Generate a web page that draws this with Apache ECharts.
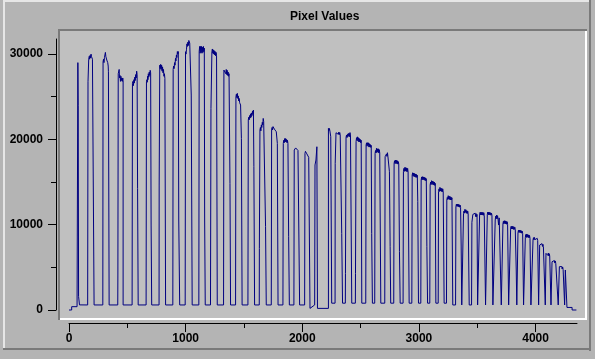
<!DOCTYPE html>
<html>
<head>
<meta charset="utf-8">
<script src="https://cdn.jsdelivr.net/npm/echarts@6/dist/echarts.min.js"></script>
<style>
html,body{margin:0;padding:0;background:#b4b4b4;}
#chart{width:595px;height:359px;}
</style>
</head>
<body>
<div id="chart"></div>
<script>
// ---- data: [pixel index, value] ----
const titleText = 'Pixel Values';
const xMajorTicks = [0, 1000, 2000, 3000, 4000];
const xMinorTicks = [500, 1500, 2500, 3500];
const yMajorTicks = [0, 10000, 20000, 30000];
const yMinorTicks = [5000, 15000, 25000];
const xMax = 4355;
const yMax = 31770;

const segLeft = [
[0,0],[23,0],[23,390],[69,390],[75,390],[76,29000],[78,29100],[79,24000],[81,24000],[82,1600],[88,1400],[90,600],[160,590],
[163,590],[163,26760],[168,26760],[169,29400],[174,29750],[177,29400],[181,29850],[185,29550],[189,30000],[193,29700],[197,29900],[201,29400],[205,29500],[209,29200],[213,29250],[215,590],[290,590],
[292,590],[292,29100],[296,29400],[300,29000],[304,29600],[308,29400],[312,30200],[316,29700],[320,29900],[324,29300],[328,29500],[332,29000],[336,28600],[338,27930],[343,27930],[344,590],[418,590],
[419,590],[419,4100],[421,4100],[422,27700],[426,27900],[430,28200],[433,27200],[437,27500],[441,26800],[445,27400],[449,26900],[453,27200],[457,26800],[461,27200],[464,26900],[464,590],[541,590],
[544,590],[544,26560],[548,26800],[552,26300],[556,27000],[560,26600],[564,27300],[568,26900],[572,27600],[576,27200],[580,28000],[584,27600],[587,27600],[588,14260],[592,14260],[593,590],[661,590],
[664,590],[664,26760],[668,27000],[671,26700],[674,27400],[677,27000],[680,27700],[684,27300],[688,27900],[692,27500],[696,28100],[700,27800],[703,27900],[704,9960],[708,9960],[709,590],[772,590],
[773,14650],[777,14650],[778,28700],[782,28300],[786,28800],[790,28200],[794,28700],[798,28000],[802,28500],[806,27800],[810,28200],[814,27400],[818,27700],[822,27150],[827,27150],[828,590],[890,590],
[893,590],[893,28200],[897,28600],[901,28300],[905,29000],[909,28700],[913,29500],[917,29200],[921,29900],[925,29600],[929,30300],[933,30000],[937,30300],[940,30200],[941,10550],[948,10550],[949,590],[996,590],
[999,590],[999,30280],[1003,30000],[1007,30500],[1011,31200],[1015,30900],[1019,31400],[1023,31000],[1027,31600],[1031,31770],[1035,31300],[1039,31500],[1043,31100],[1047,31200],[1048,25200],[1055,25200],[1056,590],[1113,590]
];

const segMid1 = [
[1116,590],[1116,30300],[1120,30900],[1124,30100],[1128,30900],[1132,30200],[1136,30900],[1140,30100],[1144,30800],[1148,30200],[1152,30900],[1156,30300],[1160,30700],[1162,30500],[1163,10550],[1167,10550],[1168,590],[1213,590],
[1216,590],[1217,23630],[1224,23630],[1225,30300],[1229,30600],[1233,30100],[1237,30500],[1241,30000],[1245,30400],[1249,29900],[1253,30300],[1257,29800],[1261,30200],[1265,29800],[1270,29900],[1271,590],[1325,590],
[1328,590],[1328,28130],[1332,28300],[1336,27900],[1340,28300],[1344,27700],[1348,28200],[1352,27600],[1356,28100],[1360,27500],[1364,27900],[1368,27400],[1372,27700],[1376,27500],[1379,27500],[1380,14850],[1384,14850],[1385,590],[1428,590],
[1431,590],[1431,25000],[1435,25300],[1439,24900],[1443,25400],[1447,24800],[1451,25100],[1455,24500],[1459,24800],[1463,24300],[1467,24500],[1471,24030],[1477,24030],[1478,20120],[1483,20120],[1484,590],[1534,590],
[1537,590],[1537,22270],[1541,22600],[1545,22300],[1549,22800],[1553,22500],[1557,23000],[1561,22600],[1565,23100],[1569,22800],[1573,23300],[1577,23000],[1581,23440],[1584,23300],[1585,16800],[1590,16800],[1591,590],[1631,590],
[1632,7230],[1636,7230],[1637,21100],[1641,21400],[1645,21000],[1649,21700],[1653,21400],[1657,22000],[1661,21700],[1665,22460],[1669,22100],[1673,22300],[1677,22000],[1681,22100],[1684,22000],[1685,9770],[1690,9770],[1691,590],[1734,590],
[1737,590],[1737,21100],[1741,21400],[1745,21100],[1749,21500],[1753,21300],[1757,21680],[1761,21200],[1765,21400],[1769,21000],[1773,21200],[1777,20900],[1781,21000],[1785,20900],[1786,19530],[1791,19530],[1792,590],[1834,590],
[1837,590],[1837,19530],[1841,19900],[1845,19600],[1849,20100],[1853,19700],[1857,20100],[1861,19700],[1865,20000],[1869,19600],[1873,19900],[1877,19500],[1882,19700],[1883,8590],[1888,8590],[1889,590],[1928,590],
[1931,590],[1931,18750],[1935,18900],[1939,18700],[1943,19000],[1947,18800],[1951,19140],[1955,18800],[1959,19000],[1963,18700],[1967,18900],[1971,18600],[1976,18700],[1977,590],[2020,590],
[2023,590],[2023,18360],[2027,18600],[2031,18400],[2035,18670],[2039,18300],[2043,18500],[2047,18200],[2051,18300],[2055,17900],[2059,17770],[2065,17770],[2066,190],[2070,400],[2106,590],
[2109,590],[2109,17000],[2116,17000],[2117,17580],[2124,17580],[2125,19140],[2129,19140],[2130,190],[2224,190]
];

const segMid2 = [
[2224,21290],[2228,21000],[2232,21290],[2236,21050],[2240,21200],[2243,21000],[2244,20310],[2251,20310],[2252,800],[2281,800],
[2282,17190],[2288,17190],[2289,20780],[2293,20550],[2297,20860],[2301,20550],[2305,20860],[2309,20600],[2313,20860],[2317,20550],[2321,20800],[2325,20550],[2329,20750],[2333,20600],[2337,20700],[2338,8980],[2344,8980],[2345,800],[2369,800],
[2370,4300],[2374,4300],[2375,20240],[2379,20500],[2383,20200],[2387,20600],[2391,20300],[2395,20700],[2399,20400],[2403,20700],[2407,20300],[2409,20800],[2413,20400],[2417,20500],[2423,20300],[2424,800],[2455,800],
[2456,4300],[2460,4300],[2461,19730],[2465,20200],[2469,19900],[2473,20300],[2477,19800],[2481,20200],[2485,19700],[2489,20100],[2493,19700],[2497,20000],[2501,19600],[2505,19900],[2509,19700],[2510,800],[2544,800],
[2547,800],[2547,19340],[2551,19600],[2555,19200],[2559,19610],[2563,19300],[2567,19600],[2571,19100],[2575,19500],[2579,19100],[2583,19400],[2587,19060],[2591,19300],[2594,19100],[2595,8980],[2600,8980],[2601,800],[2621,800],
[2624,800],[2624,18360],[2628,18700],[2632,18400],[2636,18950],[2640,18500],[2644,18900],[2648,18500],[2652,18900],[2656,18400],[2660,18800],[2664,18400],[2668,18600],[2672,18400],[2673,800],[2707,800],
[2710,800],[2710,17970],[2714,18200],[2718,17900],[2722,18300],[2726,18000],[2730,18440],[2734,18000],[2738,18200],[2742,17800],[2746,17900],[2747,16210],[2752,16210],[2753,7420],[2757,7420],[2758,800],[2784,800],
[2787,800],[2787,17190],[2791,17500],[2795,17150],[2799,17580],[2803,17200],[2807,17550],[2811,17150],[2815,17500],[2819,17100],[2823,17400],[2827,17110],[2832,17300],[2833,6840],[2838,6840],[2839,800],[2864,800],
[2867,800],[2867,16210],[2871,16600],[2875,16250],[2879,16720],[2883,16300],[2887,16700],[2891,16250],[2895,16650],[2899,16200],[2903,16600],[2907,16200],[2911,16400],[2915,16200],[2916,800],[2939,800],
[2942,800],[2942,15820],[2946,16090],[2950,15700],[2954,16050],[2958,15650],[2962,16000],[2966,15600],[2970,15950],[2974,15550],[2978,15900],[2982,15550],[2986,15800],[2989,15600],[2990,12700],[2995,12700],[2996,800],[3016,800],
[3019,800],[3019,15240],[3023,15600],[3027,15250],[3031,15630],[3035,15300],[3039,15600],[3043,15250],[3047,15550],[3051,15200],[3055,15500],[3059,15150],[3063,15400],[3067,15200],[3068,7420],[3073,7420],[3074,800],[3093,800],
[3096,800],[3096,14650],[3100,15000],[3104,14700],[3108,15160],[3112,14750],[3116,15100],[3120,14700],[3124,15050],[3128,14650],[3132,15000],[3136,14600],[3140,14850],[3144,14650],[3145,800],[3165,800],
[3168,800],[3168,13870],[3172,14200],[3176,13900],[3180,14380],[3184,13950],[3188,14300],[3192,13900],[3196,14250],[3200,13850],[3204,14200],[3208,13850],[3212,14050],[3215,13900],[3216,800],[3236,800],
[3239,800],[3239,12890],[3243,13200],[3247,12950],[3251,13400],[3255,13000],[3259,13350],[3263,12950],[3267,13300],[3271,12900],[3275,13250],[3279,12900],[3283,13150],[3289,12950],[3290,590],[3314,590]
];

const segRight = [
[3317,590],[3317,12110],[3321,12400],[3325,12150],[3329,12420],[3333,12150],[3337,12400],[3341,12100],[3345,12350],[3349,12050],[3353,12300],[3357,12050],[3361,12150],[3362,7500],[3366,7500],[3367,590],[3379,590],
[3382,590],[3382,11330],[3386,11600],[3390,11350],[3394,11800],[3398,11450],[3402,11750],[3406,11350],[3410,11650],[3414,11300],[3418,11600],[3422,11300],[3426,11500],[3430,11350],[3431,590],[3451,590],
[3454,590],[3454,10270],[3461,10270],[3462,11200],[3466,11400],[3470,11000],[3474,11400],[3478,11000],[3482,11350],[3486,10950],[3490,11300],[3494,10940],[3498,11200],[3502,11000],[3503,590],[3517,590],
[3520,590],[3520,11130],[3524,11450],[3528,11150],[3532,11480],[3536,11150],[3540,11450],[3544,11150],[3548,11450],[3552,11100],[3556,11400],[3560,11100],[3564,11300],[3570,11150],[3571,590],[3583,590],
[3586,590],[3586,11210],[3590,11480],[3594,11150],[3598,11480],[3602,11150],[3606,11450],[3610,11150],[3614,11400],[3618,11100],[3622,11350],[3626,11100],[3630,11250],[3633,11150],[3634,590],[3651,590],
[3654,590],[3654,10550],[3658,11000],[3662,10700],[3666,11130],[3670,10700],[3674,11050],[3678,10650],[3682,10800],[3683,9960],[3687,9960],[3688,10800],[3692,10600],[3696,10900],[3700,10600],[3705,10700],[3706,590],[3717,590],
[3720,590],[3720,10080],[3724,10400],[3728,10100],[3732,10470],[3736,10150],[3740,10450],[3744,10100],[3748,10400],[3752,10050],[3756,10350],[3760,10050],[3764,10250],[3768,10100],[3769,590],[3783,590],
[3786,590],[3786,9490],[3790,9800],[3794,9500],[3798,9840],[3802,9500],[3806,9800],[3810,9450],[3814,9750],[3818,9450],[3822,9700],[3826,9400],[3830,9600],[3833,9450],[3834,4690],[3838,4690],[3839,590],[3846,590],
[3849,590],[3849,9060],[3853,9350],[3857,9080],[3861,9370],[3865,9100],[3869,9350],[3873,9050],[3877,9300],[3881,9000],[3885,9250],[3889,9000],[3893,9150],[3896,9050],[3897,590],[3909,590],
[3912,590],[3912,8510],[3916,8850],[3920,8500],[3924,8910],[3928,8550],[3932,8850],[3936,8500],[3940,8800],[3944,8450],[3948,8750],[3952,8400],[3956,8600],[3959,8450],[3960,590],[3975,590],
[3978,590],[3978,8200],[3982,8480],[3986,8220],[3990,8510],[3994,8250],[3998,8480],[4002,8200],[4006,8450],[4010,8150],[4014,8400],[4018,8150],[4022,8300],[4025,8200],[4026,590],[4032,590],
[4035,590],[4035,7620],[4039,7800],[4043,7550],[4047,7810],[4051,7500],[4055,7780],[4059,7450],[4063,7700],[4067,7420],[4071,7650],[4075,7420],[4079,7550],[4082,7450],[4083,590],[4086,590],
[4089,590],[4089,6640],[4093,6720],[4097,6450],[4101,6700],[4105,6400],[4109,6680],[4113,6350],[4117,6600],[4121,6330],[4125,6550],[4131,6400],[4132,590],[4138,590],
[4141,590],[4141,5660],[4145,5850],[4149,5600],[4153,5860],[4157,5550],[4161,5800],[4165,5500],[4169,5750],[4173,5470],[4177,5700],[4181,5470],[4188,5550],[4189,1760],[4193,1760],[4194,590],[4201,590],
[4204,590],[4204,5080],[4208,5160],[4212,4900],[4216,5160],[4220,4850],[4224,5100],[4228,4800],[4232,5050],[4236,4760],[4240,4950],[4248,4800],[4249,590],[4254,590],[4255,4690],[4268,4690],[4269,300],[4313,300],[4313,0],[4350,0]
];

const pixelSeries = segLeft.concat(segMid1, segMid2, segRight);

// ---- chart ----
const FONT = 'Liberation Sans, Arial, Helvetica, sans-serif';
const chart = echarts.init(document.getElementById('chart'), null, {renderer: 'canvas'});

const labelStyle = {fontSize: 12, fontWeight: 'bold', color: '#000', fontFamily: FONT, formatter: v => String(v)};

chart.setOption({
  animation: false,
  backgroundColor: '#b4b4b4',
  title: {
    text: titleText, left: 285, top: 6,
    textStyle: {fontSize: 12, fontWeight: 'bold', color: '#000', fontFamily: FONT}
  },
  graphic: [
    // outer raised frame
    {type: 'rect', z: -20, silent: true, shape: {x: 3, y: 0, width: 588, height: 2}, style: {fill: '#e6e6e6'}},
    {type: 'rect', z: -20, silent: true, shape: {x: 3, y: 0, width: 2, height: 350}, style: {fill: '#e6e6e6'}},
    {type: 'rect', z: -20, silent: true, shape: {x: 589, y: 0, width: 2, height: 351}, style: {fill: '#7a7a7a'}},
    {type: 'rect', z: -20, silent: true, shape: {x: 3, y: 348, width: 588, height: 2}, style: {fill: '#7a7a7a'}},
    // sunken plot panel
    {type: 'rect', z: -19, silent: true, shape: {x: 58, y: 29, width: 529, height: 291}, style: {fill: '#c0c0c0'}},
    {type: 'rect', z: -18, silent: true, shape: {x: 58, y: 29, width: 529, height: 2}, style: {fill: '#7a7a7a'}},
    {type: 'rect', z: -18, silent: true, shape: {x: 58, y: 29, width: 2, height: 291}, style: {fill: '#7a7a7a'}},
    {type: 'rect', z: -18, silent: true, shape: {x: 60, y: 318, width: 527, height: 2}, style: {fill: '#ffffff'}},
    {type: 'rect', z: -18, silent: true, shape: {x: 585, y: 31, width: 2, height: 289}, style: {fill: '#ffffff'}}
  ],
  grid: {left: 69, right: 18, top: 39, bottom: 49, containLabel: false},
  xAxis: [
    {
      type: 'value', min: 0, max: xMax, position: 'bottom', offset: 13,
      axisLine: {show: true, onZero: false, lineStyle: {color: '#000', width: 1}},
      axisTick: {show: true, length: 9, customValues: xMajorTicks, lineStyle: {color: '#000', width: 1}},
      axisLabel: {show: true, margin: 10, customValues: xMajorTicks, ...labelStyle},
      splitLine: {show: false}
    },
    {
      type: 'value', min: 0, max: xMax, position: 'bottom', offset: 13,
      axisLine: {show: false, onZero: false},
      axisTick: {show: true, length: 5, customValues: xMinorTicks, lineStyle: {color: '#000', width: 1}},
      axisLabel: {show: false},
      splitLine: {show: false}
    }
  ],
  yAxis: [
    {
      type: 'value', min: 0, max: yMax, position: 'left', offset: 13,
      axisLine: {show: true, onZero: false, lineStyle: {color: '#000', width: 1}},
      axisTick: {show: true, length: 8, customValues: yMajorTicks, lineStyle: {color: '#000', width: 1}},
      axisLabel: {show: true, margin: 13, customValues: yMajorTicks, ...labelStyle},
      splitLine: {show: false}
    },
    {
      type: 'value', min: 0, max: yMax, position: 'left', offset: 13,
      axisLine: {show: false, onZero: false},
      axisTick: {show: true, length: 5, customValues: yMinorTicks, lineStyle: {color: '#000', width: 1}},
      axisLabel: {show: false},
      splitLine: {show: false}
    }
  ],
  series: [{
    type: 'line',
    xAxisIndex: 0, yAxisIndex: 0,
    data: pixelSeries,
    showSymbol: false, symbol: 'none',
    lineStyle: {color: '#000080', width: 1},
    clip: false
  }]
});
</script>
</body>
</html>
